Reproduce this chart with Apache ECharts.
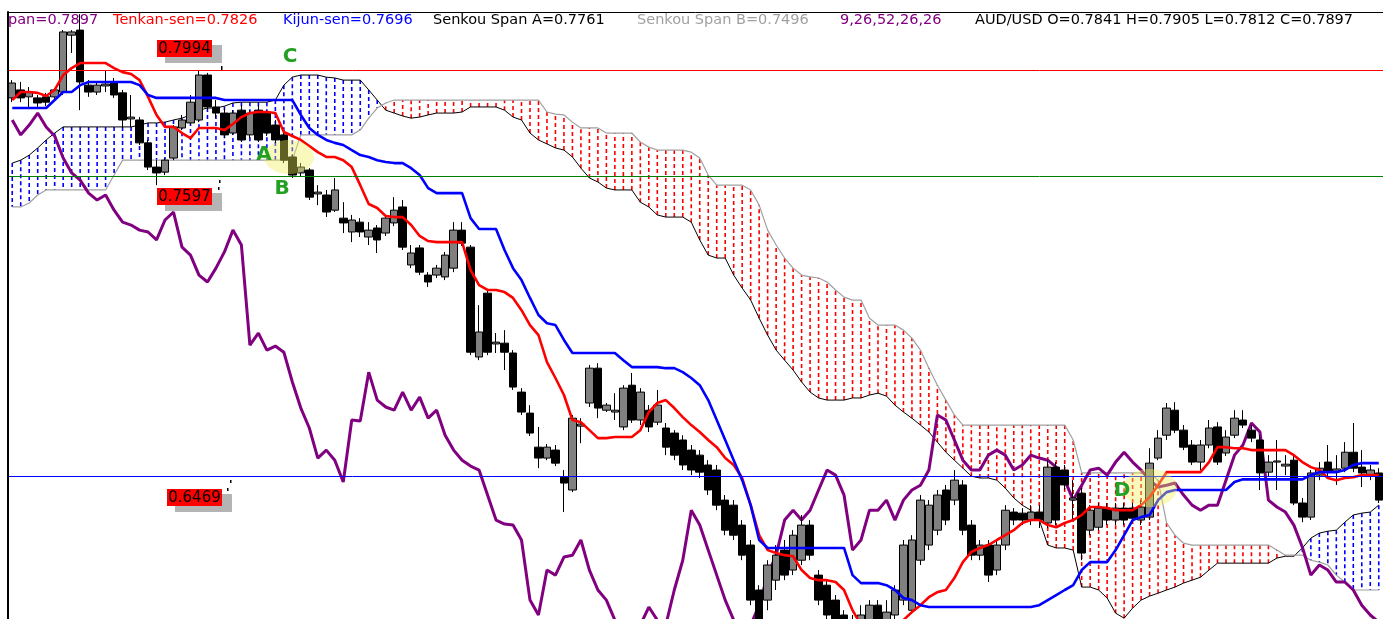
<!DOCTYPE html>
<html>
<head>
<meta charset="utf-8">
<title>AUD/USD Ichimoku</title>
<script src="https://cdn.jsdelivr.net/npm/echarts@6/dist/echarts.min.js"></script>
<style>
html, body { margin: 0; padding: 0; background: #fff; }
#ichimoku { width: 1383px; height: 619px; }
</style>
</head>
<body>
<div id="ichimoku"></div>
<script>
// candles: open, close, low, high
var candles = [
  [0.7889,0.7945,0.7873,0.7956],[0.7919,0.7889,0.7873,0.7949],[0.7893,0.7911,0.7855,0.7930],[0.7889,0.7870,0.7851,0.7900],
  [0.7893,0.7873,0.7858,0.7908],[0.7893,0.7919,0.7881,0.7926],[0.7911,0.8137,0.7900,0.8144],[0.8125,0.8137,0.8058,0.8144],
  [0.8144,0.7949,0.7843,0.8204],[0.7937,0.7911,0.7893,0.7956],[0.7911,0.7937,0.7900,0.7949],[0.7934,0.7941,0.7911,0.7994],
  [0.7949,0.7900,0.7889,0.7964],[0.7908,0.7806,0.7776,0.7919],[0.7810,0.7817,0.7780,0.7900],[0.7806,0.7720,0.7712,0.7817],
  [0.7720,0.7629,0.7618,0.7731],[0.7629,0.7607,0.7561,0.7655],[0.7610,0.7655,0.7599,0.7663],[0.7663,0.7780,0.7655,0.7787],
  [0.7776,0.7806,0.7768,0.7825],[0.7795,0.7873,0.7787,0.7900],[0.7806,0.7975,0.7798,0.7994],[0.7975,0.7855,0.7843,0.7983],
  [0.7855,0.7832,0.7813,0.7881],[0.7832,0.7750,0.7738,0.7851],[0.7757,0.7832,0.7750,0.7843],[0.7843,0.7731,0.7723,0.7862],
  [0.7750,0.7832,0.7738,0.7843],[0.7843,0.7731,0.7723,0.7862],[0.7832,0.7757,0.7746,0.7843],[0.7787,0.7731,0.7720,0.7806],
  [0.7750,0.7655,0.7644,0.7768],[0.7667,0.7599,0.7588,0.7674],[0.7607,0.7629,0.7595,0.7644],[0.7618,0.7516,0.7505,0.7625],
  [0.7528,0.7535,0.7486,0.7561],[0.7524,0.7460,0.7441,0.7543],[0.7467,0.7543,0.7460,0.7588],[0.7437,0.7419,0.7381,0.7497],
  [0.7385,0.7430,0.7347,0.7449],[0.7422,0.7385,0.7366,0.7437],[0.7366,0.7392,0.7336,0.7422],[0.7400,0.7355,0.7306,0.7411],
  [0.7381,0.7437,0.7370,0.7449],[0.7419,0.7467,0.7407,0.7516],[0.7479,0.7328,0.7317,0.7505],[0.7261,0.7306,0.7249,0.7336],
  [0.7325,0.7234,0.7223,0.7336],[0.7223,0.7197,0.7178,0.7234],[0.7223,0.7249,0.7212,0.7261],[0.7216,0.7298,0.7204,0.7310],
  [0.7249,0.7392,0.7234,0.7422],[0.7392,0.7343,0.7332,0.7422],[0.7328,0.6933,0.6922,0.7336],[0.6915,0.7009,0.6903,0.7110],
  [0.7155,0.6933,0.6922,0.7167],[0.6964,0.6971,0.6930,0.7005],[0.6967,0.6933,0.6866,0.7016],[0.6930,0.6802,0.6791,0.6941],
  [0.6783,0.6708,0.6697,0.6798],[0.6704,0.6629,0.6618,0.6734],[0.6576,0.6535,0.6497,0.6652],[0.6535,0.6576,0.6527,0.6588],
  [0.6565,0.6516,0.6505,0.6584],[0.6463,0.6441,0.6332,0.6490],[0.6415,0.6685,0.6407,0.6697],[0.6655,0.6663,0.6591,0.6685],
  [0.6742,0.6873,0.6727,0.6885],[0.6873,0.6723,0.6685,0.6892],[0.6715,0.6734,0.6708,0.6742],[0.6708,0.6715,0.6678,0.6779],
  [0.6652,0.6798,0.6640,0.6809],[0.6809,0.6678,0.6667,0.6855],[0.6678,0.6783,0.6659,0.6798],[0.6715,0.6652,0.6633,0.6734],
  [0.6670,0.6734,0.6659,0.6791],[0.6648,0.6576,0.6546,0.6667],[0.6629,0.6546,0.6527,0.6640],[0.6603,0.6509,0.6490,0.6621],
  [0.6565,0.6490,0.6471,0.6584],[0.6546,0.6482,0.6460,0.6565],[0.6509,0.6415,0.6396,0.6527],[0.6490,0.6358,0.6339,0.6509],
  [0.6377,0.6264,0.6245,0.6396],[0.6358,0.6245,0.6227,0.6377],[0.6283,0.6170,0.6151,0.6302],[0.6208,0.6001,0.5982,0.6227],
  [0.6039,0.5930,0.5907,0.6057],[0.6001,0.6133,0.5963,0.6151],[0.6076,0.6170,0.6039,0.6208],[0.6189,0.6095,0.6076,0.6227],
  [0.6114,0.6245,0.6095,0.6264],[0.6151,0.6283,0.6133,0.6321],[0.6283,0.6170,0.6151,0.6302],[0.6095,0.6001,0.5982,0.6114],
  [0.6057,0.5945,0.5918,0.6076],[0.6001,0.5888,0.5851,0.6020],[0.5945,0.5851,0.5832,0.5963],[0.5851,0.5926,0.5832,0.5945],
  [0.5869,0.5945,0.5851,0.5982],[0.5907,0.5982,0.5888,0.6001],[0.5982,0.5907,0.5888,0.6001],[0.5907,0.5956,0.5888,0.6001],
  [0.5945,0.6039,0.5926,0.6057],[0.6001,0.6208,0.5982,0.6227],[0.5963,0.6227,0.5956,0.6245],[0.6151,0.6377,0.6133,0.6396],
  [0.6208,0.6358,0.6189,0.6377],[0.6264,0.6396,0.6245,0.6415],[0.6415,0.6302,0.6283,0.6434],[0.6377,0.6452,0.6358,0.6490],
  [0.6434,0.6264,0.6245,0.6452],[0.6283,0.6170,0.6151,0.6302],[0.6170,0.6208,0.6151,0.6227],[0.6208,0.6095,0.6069,0.6227],
  [0.6114,0.6208,0.6095,0.6227],[0.6208,0.6339,0.6189,0.6358],[0.6332,0.6302,0.6283,0.6347],[0.6328,0.6302,0.6283,0.6347],
  [0.6302,0.6332,0.6283,0.6358],[0.6332,0.6302,0.6272,0.6358],[0.6291,0.6501,0.6272,0.6527],[0.6501,0.6302,0.6283,0.6520],
  [0.6490,0.6434,0.6415,0.6509],[0.6377,0.6385,0.6302,0.6452],[0.6403,0.6178,0.6151,0.6422],[0.6264,0.6339,0.6245,0.6358],
  [0.6275,0.6347,0.6264,0.6366],[0.6347,0.6302,0.6283,0.6366],[0.6302,0.6347,0.6283,0.6366],[0.6347,0.6302,0.6283,0.6366],
  [0.6347,0.6309,0.6291,0.6366],[0.6302,0.6351,0.6283,0.6377],[0.6313,0.6516,0.6302,0.6572],[0.6535,0.6610,0.6527,0.6640],
  [0.6621,0.6723,0.6603,0.6742],[0.6715,0.6640,0.6629,0.6745],[0.6640,0.6576,0.6565,0.6659],[0.6584,0.6520,0.6509,0.6603],
  [0.6520,0.6584,0.6490,0.6603],[0.6584,0.6648,0.6572,0.6678],[0.6652,0.6520,0.6509,0.6670],[0.6554,0.6614,0.6543,0.6640],
  [0.6621,0.6685,0.6610,0.6715],[0.6678,0.6659,0.6648,0.6715],[0.6640,0.6610,0.6595,0.6659],[0.6603,0.6479,0.6415,0.6621],
  [0.6482,0.6520,0.6467,0.6546],[0.6520,0.6524,0.6415,0.6603],[0.6505,0.6512,0.6471,0.6546],[0.6527,0.6366,0.6358,0.6546],
  [0.6366,0.6313,0.6294,0.6385],[0.6313,0.6479,0.6302,0.6490],[0.6471,0.6497,0.6452,0.6520],[0.6520,0.6482,0.6467,0.6584],
  [0.6486,0.6494,0.6434,0.6546],[0.6497,0.6557,0.6482,0.6595],[0.6557,0.6497,0.6482,0.6667],[0.6501,0.6479,0.6426,0.6565],
  [0.6471,0.6490,0.6452,0.6509],[0.6479,0.6377,0.6366,0.6497]
];

var tenkan = [
  0.7881,0.7911,0.7911,0.7908,0.7896,0.7919,0.7975,0.8001,0.8020,0.8020,
  0.8020,0.8020,0.8001,0.7986,0.7979,0.7956,0.7893,0.7825,0.7780,0.7780,
  0.7757,0.7738,0.7776,0.7776,0.7776,0.7768,0.7791,0.7817,0.7832,0.7836,
  0.7836,0.7832,0.7761,0.7746,0.7731,0.7708,0.7685,0.7667,0.7667,0.7655,
  0.7629,0.7561,0.7490,0.7475,0.7445,0.7441,0.7441,0.7411,0.7370,0.7351,
  0.7347,0.7347,0.7347,0.7347,0.7242,0.7185,0.7167,0.7167,0.7159,0.7137,
  0.7091,0.7035,0.6997,0.6896,0.6836,0.6772,0.6678,0.6670,0.6640,0.6610,
  0.6610,0.6614,0.6614,0.6614,0.6640,0.6708,0.6742,0.6753,0.6723,0.6689,
  0.6659,0.6633,0.6603,0.6576,0.6535,0.6509,0.6460,0.6358,0.6245,0.6189,
  0.6178,0.6170,0.6166,0.6114,0.6084,0.6076,0.6076,0.6069,0.6039,0.5963,
  0.5907,0.5907,0.5907,0.5907,0.5907,0.5926,0.5956,0.5982,0.6012,0.6031,
  0.6039,0.6084,0.6144,0.6182,0.6197,0.6208,0.6227,0.6245,0.6264,0.6291,
  0.6302,0.6302,0.6283,0.6275,0.6291,0.6302,0.6321,0.6351,0.6351,0.6347,
  0.6339,0.6339,0.6339,0.6358,0.6388,0.6433,0.6482,0.6482,0.6482,0.6482,
  0.6482,0.6520,0.6576,0.6576,0.6572,0.6572,0.6565,0.6565,0.6565,0.6565,
  0.6565,0.6546,0.6520,0.6501,0.6490,0.6460,0.6452,0.6460,0.6463,0.6471,
  0.6471,0.6471
];

var kijun = [
  0.7851,0.7851,0.7851,0.7851,0.7851,0.7881,0.7911,0.7911,0.7937,0.7949,
  0.7949,0.7949,0.7949,0.7949,0.7949,0.7937,0.7900,0.7889,0.7889,0.7889,
  0.7889,0.7889,0.7889,0.7889,0.7889,0.7881,0.7881,0.7881,0.7881,0.7881,
  0.7881,0.7881,0.7881,0.7881,0.7825,0.7776,0.7750,0.7731,0.7720,0.7712,
  0.7693,0.7674,0.7667,0.7655,0.7648,0.7644,0.7644,0.7625,0.7599,0.7550,
  0.7531,0.7531,0.7531,0.7531,0.7437,0.7396,0.7396,0.7396,0.7317,0.7249,
  0.7204,0.7137,0.7073,0.7042,0.7035,0.6979,0.6930,0.6930,0.6930,0.6930,
  0.6930,0.6930,0.6903,0.6877,0.6877,0.6877,0.6877,0.6873,0.6873,0.6858,
  0.6836,0.6809,0.6753,0.6678,0.6603,0.6527,0.6452,0.6358,0.6227,0.6197,
  0.6197,0.6197,0.6197,0.6197,0.6197,0.6197,0.6197,0.6197,0.6197,0.6095,
  0.6065,0.6065,0.6065,0.6057,0.6039,0.6009,0.6001,0.5982,0.5975,0.5975,
  0.5975,0.5975,0.5975,0.5975,0.5975,0.5975,0.5975,0.5975,0.5975,0.5975,
  0.5975,0.5982,0.6001,0.6020,0.6039,0.6057,0.6114,0.6144,0.6144,0.6144,
  0.6189,0.6245,0.6302,0.6313,0.6321,0.6377,0.6407,0.6415,0.6415,0.6415,
  0.6415,0.6415,0.6415,0.6415,0.6445,0.6455,0.6455,0.6455,0.6455,0.6455,
  0.6455,0.6455,0.6455,0.6471,0.6482,0.6482,0.6482,0.6490,0.6509,0.6516,
  0.6516,0.6516
];

var chikou = [
  0.7806,0.7750,0.7787,0.7832,0.7780,0.7746,0.7663,0.7607,0.7580,0.7531,
  0.7505,0.7524,0.7467,0.7422,0.7411,0.7392,0.7385,0.7355,0.7430,0.7460,
  0.7328,0.7298,0.7223,0.7197,0.7249,0.7310,0.7392,0.7336,0.6960,0.7005,
  0.6941,0.6956,0.6933,0.6821,0.6723,0.6648,0.6535,0.6565,0.6527,0.6445,
  0.6678,0.6674,0.6858,0.6753,0.6727,0.6715,0.6783,0.6715,0.6764,0.6685,
  0.6715,0.6621,0.6565,0.6527,0.6505,0.6490,0.6396,0.6302,0.6287,0.6283,
  0.6227,0.6001,0.5945,0.6114,0.6095,0.6163,0.6170,0.6227,0.6114,0.6039,
  0.6001,0.5926,0.5907,0.5907,0.5907,0.5975,0.5926,0.5907,0.6039,0.6151,
  0.6339,0.6283,0.6189,0.6095,0.6001,0.5926,0.5907,0.5907,0.5982,0.6095,
  0.6170,0.6302,0.6339,0.6302,0.6339,0.6415,0.6490,0.6471,0.6396,0.6189,
  0.6227,0.6339,0.6339,0.6377,0.6302,0.6377,0.6415,0.6433,0.6490,0.6697,
  0.6678,0.6603,0.6527,0.6490,0.6490,0.6546,0.6565,0.6546,0.6490,0.6509,
  0.6546,0.6535,0.6527,0.6501,0.6452,0.6377,0.6433,0.6490,0.6497,0.6471,
  0.6520,0.6557,0.6520,0.6490,0.6452,0.6426,0.6433,0.6441,0.6396,0.6358,
  0.6339,0.6358,0.6358,0.6452,0.6546,0.6584,0.6667,0.6633,0.6377,0.6351,
  0.6332,0.6283,0.6200,0.6095,0.6133,0.6114,0.6069,0.6069,0.6039,0.5982,
  0.5945,0.5918
];

var spanA = [
  0.7644,0.7655,0.7674,0.7701,0.7731,0.7757,0.7780,0.7780,0.7780,0.7780,
  0.7780,0.7780,0.7780,0.7780,0.7780,0.7787,0.7795,0.7795,0.7798,0.7806,
  0.7813,0.7825,0.7843,0.7851,0.7851,0.7858,0.7870,0.7873,0.7873,0.7873,
  0.7873,0.7881,0.7937,0.7967,0.7975,0.7975,0.7975,0.7967,0.7964,0.7956,
  0.7956,0.7956,0.7919,0.7881,0.7843,0.7832,0.7821,0.7813,0.7817,0.7825,
  0.7832,0.7832,0.7832,0.7836,0.7855,0.7855,0.7855,0.7855,0.7843,0.7817,
  0.7806,0.7757,0.7731,0.7716,0.7701,0.7693,0.7667,0.7625,0.7588,0.7573,
  0.7550,0.7543,0.7543,0.7543,0.7497,0.7479,0.7449,0.7441,0.7441,0.7441,
  0.7422,0.7355,0.7298,0.7287,0.7287,0.7223,0.7174,0.7129,0.7061,0.6997,
  0.6941,0.6903,0.6866,0.6821,0.6783,0.6761,0.6753,0.6753,0.6753,0.6761,
  0.6761,0.6772,0.6779,0.6768,0.6734,0.6708,0.6685,0.6659,0.6633,0.6595,
  0.6557,0.6527,0.6497,0.6467,0.6460,0.6460,0.6452,0.6422,0.6385,0.6358,
  0.6339,0.6302,0.6208,0.6197,0.6197,0.6189,0.6050,0.6050,0.6039,0.6009,
  0.5952,0.5933,0.5971,0.6001,0.6016,0.6027,0.6039,0.6050,0.6065,0.6076,
  0.6087,0.6114,0.6140,0.6140,0.6140,0.6140,0.6140,0.6140,0.6140,0.6159,
  0.6166,0.6166,0.6197,0.6234,0.6253,0.6260,0.6264,0.6294,0.6321,0.6328,
  0.6332,0.6358
];

var spanB = [
  0.7479,0.7479,0.7494,0.7524,0.7543,0.7543,0.7543,0.7543,0.7543,0.7543,
  0.7543,0.7543,0.7599,0.7655,0.7655,0.7655,0.7655,0.7655,0.7655,0.7655,
  0.7655,0.7655,0.7655,0.7655,0.7655,0.7655,0.7655,0.7655,0.7655,0.7655,
  0.7655,0.7655,0.7655,0.7655,0.7750,0.7750,0.7750,0.7750,0.7750,0.7750,
  0.7750,0.7768,0.7813,0.7851,0.7870,0.7881,0.7881,0.7881,0.7881,0.7881,
  0.7881,0.7881,0.7881,0.7881,0.7881,0.7881,0.7881,0.7881,0.7881,0.7881,
  0.7881,0.7881,0.7881,0.7836,0.7828,0.7825,0.7798,0.7776,0.7776,0.7776,
  0.7757,0.7757,0.7757,0.7757,0.7723,0.7704,0.7693,0.7693,0.7693,0.7693,
  0.7685,0.7663,0.7599,0.7561,0.7561,0.7561,0.7561,0.7543,0.7486,0.7392,
  0.7336,0.7287,0.7249,0.7223,0.7216,0.7212,0.7197,0.7167,0.7140,0.7129,
  0.7129,0.7061,0.7035,0.7035,0.7035,0.7016,0.6986,0.6941,0.6873,0.6809,
  0.6753,0.6697,0.6659,0.6659,0.6659,0.6659,0.6659,0.6659,0.6659,0.6659,
  0.6659,0.6659,0.6659,0.6659,0.6659,0.6603,0.6479,0.6479,0.6479,0.6479,
  0.6479,0.6479,0.6479,0.6479,0.6479,0.6452,0.6291,0.6245,0.6215,0.6208,
  0.6208,0.6208,0.6208,0.6208,0.6208,0.6208,0.6208,0.6208,0.6208,0.6189,
  0.6170,0.6170,0.6170,0.6151,0.6144,0.6133,0.6095,0.6069,0.6039,0.6039,
  0.6039,0.6039
];

// horizontal price levels
var levels = [0.7994, 0.7597, 0.6469];
var levelColors = ['#ff0000', '#008000', '#0000ff'];
var bars = candles.map(function (c, i) { return String(i + 1); });

var chart = echarts.init(document.getElementById('ichimoku'));

// one dashed stroke per bar between span A and span B
function renderCloud(params, api) {
  var i = api.value(0);
  var a = api.value(1), b = api.value(2);
  var p1 = api.coord([i, a]);
  var p2 = api.coord([i, b]);
  return {
    type: 'line',
    shape: { x1: p1[0], y1: p1[1], x2: p2[0], y2: p2[1] },
    style: { stroke: a >= b ? '#0000ff' : '#ff0000', lineWidth: 1.6, lineDash: [4, 3] }
  };
}

function lineSeries(name, data, color, width, z) {
  return {
    name: name, type: 'line', data: data, symbol: 'none', z: z,
    lineStyle: { color: color, width: width }
  };
}

var FONT = '"DejaVu Sans", Arial, sans-serif';

function legendText(x, text, color) {
  return { type: 'text', x: x, y: 20, z: 100,
    style: { text: text, fill: color, font: '14.5px ' + FONT, verticalAlign: 'middle' } };
}

function priceTag(x, y, text) {
  return [
    { type: 'rect', z: 100, shape: { x: x + 8, y: y + 5, width: 57, height: 18 }, style: { fill: '#b4b4b4' } },
    { type: 'rect', z: 101, shape: { x: x, y: y, width: 55, height: 17 }, style: { fill: '#ff0000' } },
    { type: 'text', z: 102, x: x + 27.5, y: y + 9,
      style: { text: text, fill: '#000', font: '15px ' + FONT, align: 'center', verticalAlign: 'middle' } }
  ];
}

function letter(x, y, text) {
  return { type: 'text', x: x, y: y, z: 103,
    style: { text: text, fill: '#22a022', font: 'bold 20px ' + FONT, align: 'center', verticalAlign: 'middle' } };
}

var graphics = [
  legendText(8, 'pan=0.7897', '#800080'),
  legendText(113, 'Tenkan-sen=0.7826', '#ff0000'),
  legendText(283, 'Kijun-sen=0.7696', '#0000ff'),
  legendText(433, 'Senkou Span A=0.7761', '#000000'),
  legendText(637, 'Senkou Span B=0.7496', '#a0a0a0'),
  legendText(840, '9,26,52,26,26', '#800080'),
  legendText(975, 'AUD/USD O=0.7841 H=0.7905 L=0.7812 C=0.7897', '#000000'),
  { type: 'ellipse', z: 99, shape: { cx: 289, cy: 157, rx: 25, ry: 17 }, style: { fill: 'rgba(240,240,90,0.4)' } },
  { type: 'ellipse', z: 99, shape: { cx: 1150, cy: 488, rx: 27, ry: 19 }, style: { fill: 'rgba(240,240,90,0.4)' } },
  letter(290, 57, 'C'),
  letter(264, 155, 'A'),
  letter(282, 189, 'B'),
  letter(1122, 491, 'D'),
  { type: 'rect', z: 100, shape: { x: 221, y: 66, width: 1.5, height: 4 }, style: { fill: '#000' } },
  { type: 'rect', z: 100, shape: { x: 219, y: 180, width: 1.5, height: 3 }, style: { fill: '#000' } },
  { type: 'rect', z: 100, shape: { x: 218, y: 187, width: 1.5, height: 3 }, style: { fill: '#000' } },
  { type: 'rect', z: 100, shape: { x: 230, y: 480, width: 1.5, height: 3 }, style: { fill: '#000' } },
  { type: 'rect', z: 100, shape: { x: 227, y: 488, width: 1.5, height: 3 }, style: { fill: '#000' } }
].concat(priceTag(157, 40, '0.7994'), priceTag(157, 188, '0.7597'), priceTag(167, 489, '0.6469'));

var option = {
  animation: false,
  backgroundColor: '#ffffff',
  grid: { left: 8, right: 0, top: 12, bottom: 0 },
  xAxis: {
    type: 'category', data: bars, position: 'top', boundaryGap: true,
    axisLine: { show: true, lineStyle: { color: '#000', width: 1 } },
    axisTick: { show: false }, axisLabel: { show: false }, splitLine: { show: false }
  },
  yAxis: {
    type: 'value', min: 0.5930, max: 0.8212,
    axisLine: { show: true, lineStyle: { color: '#000', width: 2 } },
    axisTick: { show: false }, axisLabel: { show: false }, splitLine: { show: false }
  },
  series: [
    {
      name: 'Cloud', type: 'custom', renderItem: renderCloud, z: 1,
      encode: { x: 0, y: [1, 2] },
      data: spanA.map(function (a, i) { return [i, a, spanB[i]]; })
    },
    lineSeries('Senkou Span A', spanA, '#000000', 1, 2),
    lineSeries('Senkou Span B', spanB, '#a0a0a0', 1.2, 2),
    lineSeries('Chikou Span', chikou, '#800080', 3, 3),
    {
      name: 'AUD/USD', type: 'candlestick', data: candles, barWidth: 8, z: 4,
      itemStyle: { color: '#808080', color0: '#000000', borderColor: '#000000', borderColor0: '#000000', borderWidth: 1 }
    },
    lineSeries('Tenkan-sen', tenkan, '#ff0000', 2.6, 5),
    lineSeries('Kijun-sen', kijun, '#0000ff', 2.6, 5)
  ],
  graphic: graphics
};

chart.setOption(option);

// full-width price level lines, placed through the y axis scale
var levelLines = levels.map(function (v, i) {
  var y = Math.round(chart.convertToPixel({ yAxisIndex: 0 }, v)) + 0.5;
  return {
    type: 'line', z: 6, silent: true,
    shape: { x1: 9, y1: y, x2: 1383, y2: y },
    style: { stroke: levelColors[i], lineWidth: 1 }
  };
});
chart.setOption({ graphic: graphics.concat(levelLines) });
</script>
</body>
</html>
